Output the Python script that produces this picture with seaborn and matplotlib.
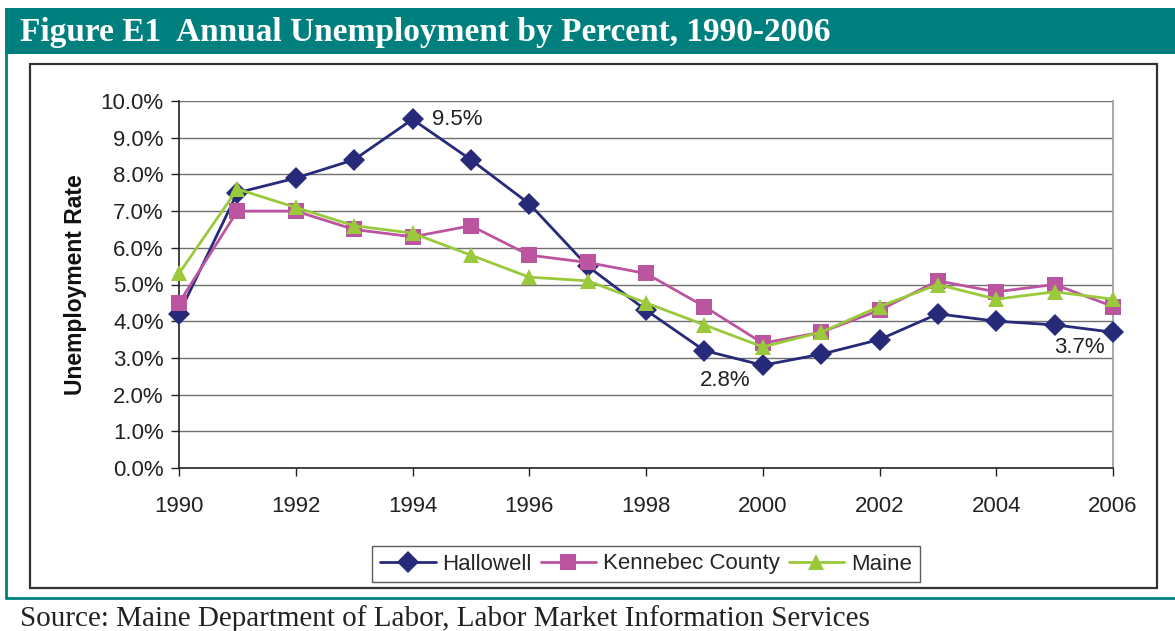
import matplotlib
matplotlib.use("Agg")
import matplotlib.pyplot as plt
from matplotlib.patches import Rectangle
from matplotlib.lines import Line2D
import matplotlib.ticker as mticker
import seaborn as sns
import pandas as pd

years = list(range(1990, 2007))
hallowell = [4.2, 7.5, 7.9, 8.4, 9.5, 8.4, 7.2, 5.5, 4.3, 3.2, 2.8, 3.1, 3.5, 4.2, 4.0, 3.9, 3.7]
kennebec = [4.5, 7.0, 7.0, 6.5, 6.3, 6.6, 5.8, 5.6, 5.3, 4.4, 3.4, 3.7, 4.3, 5.1, 4.8, 5.0, 4.4]
maine = [5.3, 7.6, 7.1, 6.6, 6.4, 5.8, 5.2, 5.1, 4.5, 3.9, 3.3, 3.7, 4.4, 5.0, 4.6, 4.8, 4.6]
series_names = ["Hallowell", "Kennebec County", "Maine"]
y_ticks = [0, 1, 2, 3, 4, 5, 6, 7, 8, 9, 10]
x_ticks = list(range(1990, 2007, 2))

df = pd.concat([
    pd.DataFrame({"year": years, "rate": vals, "series": name})
    for name, vals in zip(series_names, [hallowell, kennebec, maine])
])

sns.set_theme(style="white")
plt.rcParams["font.family"] = ["Liberation Sans", "DejaVu Sans"]

W, H = 1175, 631
fig = plt.figure(figsize=(W / 100, H / 100), dpi=100)
fig.patch.set_facecolor("white")

teal = "#007F7F"
serif = ["Liberation Serif", "DejaVu Serif"]
# header band
fig.patches.append(Rectangle((5 / W, 1 - 54 / H), 1 - 5 / W, 46 / H,
                             transform=fig.transFigure, facecolor=teal,
                             edgecolor="none", zorder=0))
fig.text(20 / W, 1 - 32 / H, "Figure E1  Annual Unemployment by Percent, 1990-2006",
         color="white", fontsize=24, fontweight="bold",
         family=serif, va="center", ha="left")
# teal frame lines
fig.add_artist(Line2D([6 / W, 6 / W], [1 - 54 / H, 1 - 598 / H],
                      transform=fig.transFigure, color=teal, lw=2))
fig.add_artist(Line2D([6 / W, 1], [1 - 598 / H, 1 - 598 / H],
                      transform=fig.transFigure, color=teal, lw=2))
# chart box
fig.patches.append(Rectangle((30 / W, 1 - 588 / H), (1157 - 30) / W, (588 - 64) / H,
                             transform=fig.transFigure, facecolor="none",
                             edgecolor="#333333", lw=1.6, zorder=1))
fig.text(20 / W, 1 - 619 / H,
         "Source: Maine Department of Labor, Labor Market Information Services",
         color="#222222", fontsize=21, family=serif, va="center", ha="left")

ax = fig.add_axes([179 / W, 1 - 468 / H, (1113 - 179) / W, (468 - 101) / H])
palette = {"Hallowell": "#262A78", "Kennebec County": "#BC55A0", "Maine": "#9ACA3C"}
markers = {"Hallowell": "D", "Kennebec County": "s", "Maine": "^"}
sns.lineplot(data=df, x="year", y="rate", hue="series", style="series",
             palette=palette, markers=markers, dashes=False, ax=ax,
             linewidth=2, markersize=11.5, markeredgewidth=0, legend=False,
             clip_on=False, zorder=3)

ax.set_xlim(1990, 2006)
ax.set_ylim(0, 10)
ax.set_yticks(y_ticks)
ax.set_xticks(x_ticks)
ax.yaxis.set_major_formatter(mticker.FuncFormatter(lambda v, p: f"{v:.1f}%"))
ax.set_axisbelow(True)
ax.grid(axis="y", color="#707070", lw=1)
ax.grid(axis="x", visible=False)
for s in ["left", "bottom"]:
    ax.spines[s].set_color("#222222")
    ax.spines[s].set_linewidth(1.2)
ax.spines["right"].set_color("#999999")
ax.spines["right"].set_linewidth(1.2)
ax.spines["top"].set_visible(False)
ax.tick_params(axis="both", which="major", direction="out", length=6, width=1,
               color="#222222", labelsize=16, labelcolor="#222222", left=True, bottom=True)
ax.tick_params(axis="x", pad=14)
ax.tick_params(axis="y", pad=5)
ax.set_xlabel("")
ax.set_ylabel("Unemployment Rate", fontsize=16.5, fontweight="bold", color="#111111", labelpad=10)

# value callouts
ax.annotate(f"{hallowell[4]:.1f}%", (years[4], hallowell[4]), xytext=(14, 0),
            textcoords="offset points", ha="left", va="center", fontsize=16, color="#222222")
ax.annotate(f"{hallowell[10]:.1f}%", (years[10], hallowell[10]), xytext=(-27, -11),
            textcoords="offset points", ha="center", va="center", fontsize=16, color="#222222")
ax.annotate(f"{hallowell[16]:.1f}%", (years[16], hallowell[16]), xytext=(-24, -11),
            textcoords="offset points", ha="center", va="center", fontsize=16, color="#222222")

handles = [Line2D([], [], color=palette[n], marker=markers[n], lw=2,
                  markersize=11, markeredgewidth=0) for n in series_names]
leg = fig.legend(handles, series_names, loc="center", ncol=3,
                 bbox_to_anchor=(646 / W, 1 - 564 / H), frameon=True, fontsize=16,
                 handlelength=2.5, handletextpad=0.3, columnspacing=0.4,
                 borderpad=0.35, fancybox=False)
leg.get_frame().set_edgecolor("#333333")
leg.get_frame().set_linewidth(1)

fig.savefig("out.png", dpi=100, facecolor="white")
